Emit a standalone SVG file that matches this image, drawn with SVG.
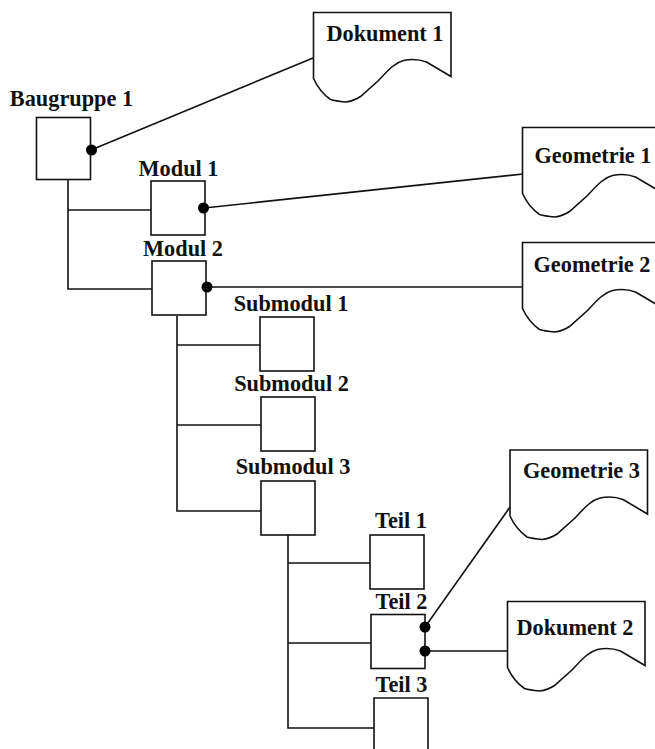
<svg xmlns="http://www.w3.org/2000/svg" width="655" height="749" viewBox="0 0 655 749">
<style>
.b{fill:#fff;stroke:#111;stroke-width:1.6}
.c{fill:none;stroke:#111;stroke-width:1.6}
.d{fill:#000}
text{font-family:"Liberation Serif","Times New Roman",serif;font-weight:bold;font-size:22.300px;fill:#111;text-anchor:middle}
</style>
<defs>
<path id="doc" class="b" d="M0 0H137.500V64L113 49.500C105 46.500 95 47 90 48C82 50 76 56 65 68L47 84C41 88 36 89 32 89.500C27 89 22 88.500 17 87C10 82 5 77 0 66Z"/>
</defs>
<g id="connectors">
<path class="c" d="M91 150L313 58"/>
<path class="c" d="M68 179V289H152M68 210H151"/>
<path class="c" d="M204 208L523 174"/>
<path class="c" d="M207 287H522"/>
<path class="c" d="M177 316V511H262M177 345H260M177 425H261"/>
<path class="c" d="M288 535V728H374M288 563H370M288 643H371"/>
<path class="c" d="M425 627L510 507"/>
<path class="c" d="M425 651H508"/>
</g>
<g id="baugruppe1"><rect class="b" x="36.500" y="117.500" width="54" height="62"/><circle class="d" cx="91.500" cy="150" r="5.500"/><text x="71.500" y="105.500">Baugruppe 1</text></g>
<g id="modul1"><rect class="b" x="151" y="181" width="54" height="54"/><circle class="d" cx="203.500" cy="208" r="5.500"/><text x="178.500" y="175.500">Modul 1</text></g>
<g id="modul2"><rect class="b" x="152" y="261" width="54" height="54"/><circle class="d" cx="207" cy="287" r="5.500"/><text x="183" y="255.500">Modul 2</text></g>
<g id="submodul1"><rect class="b" x="260" y="317" width="54" height="54"/><text x="291" y="310.500">Submodul 1</text></g>
<g id="submodul2"><rect class="b" x="261" y="397" width="54" height="54"/><text x="291.500" y="390.500">Submodul 2</text></g>
<g id="submodul3"><rect class="b" x="261" y="481" width="54" height="54"/><text x="293" y="473.500">Submodul 3</text></g>
<g id="teil1"><rect class="b" x="370" y="535" width="54" height="54"/><text x="401" y="527.500">Teil 1</text></g>
<g id="teil2"><rect class="b" x="371" y="614.500" width="54" height="54"/><circle class="d" cx="425" cy="627" r="5.500"/><circle class="d" cx="425" cy="651" r="5.500"/><text x="401.500" y="608.500">Teil 2</text></g>
<g id="teil3"><path class="b" d="M374 749V698H428V749"/><text x="401.500" y="691.500">Teil 3</text></g>
<g id="dokument1"><use href="#doc" x="313.500" y="12.500"/><text x="385" y="40.500">Dokument 1</text></g>
<g id="geometrie1"><use href="#doc" x="522.500" y="127.500"/><text x="593" y="162.500">Geometrie 1</text></g>
<g id="geometrie2"><use href="#doc" x="522.500" y="242.500"/><text x="592" y="271.500">Geometrie 2</text></g>
<g id="geometrie3"><use href="#doc" x="510" y="450"/><text x="581.500" y="477.500">Geometrie 3</text></g>
<g id="dokument2"><use href="#doc" x="507.500" y="601.500"/><text x="575" y="634.500">Dokument 2</text></g>
</svg>
